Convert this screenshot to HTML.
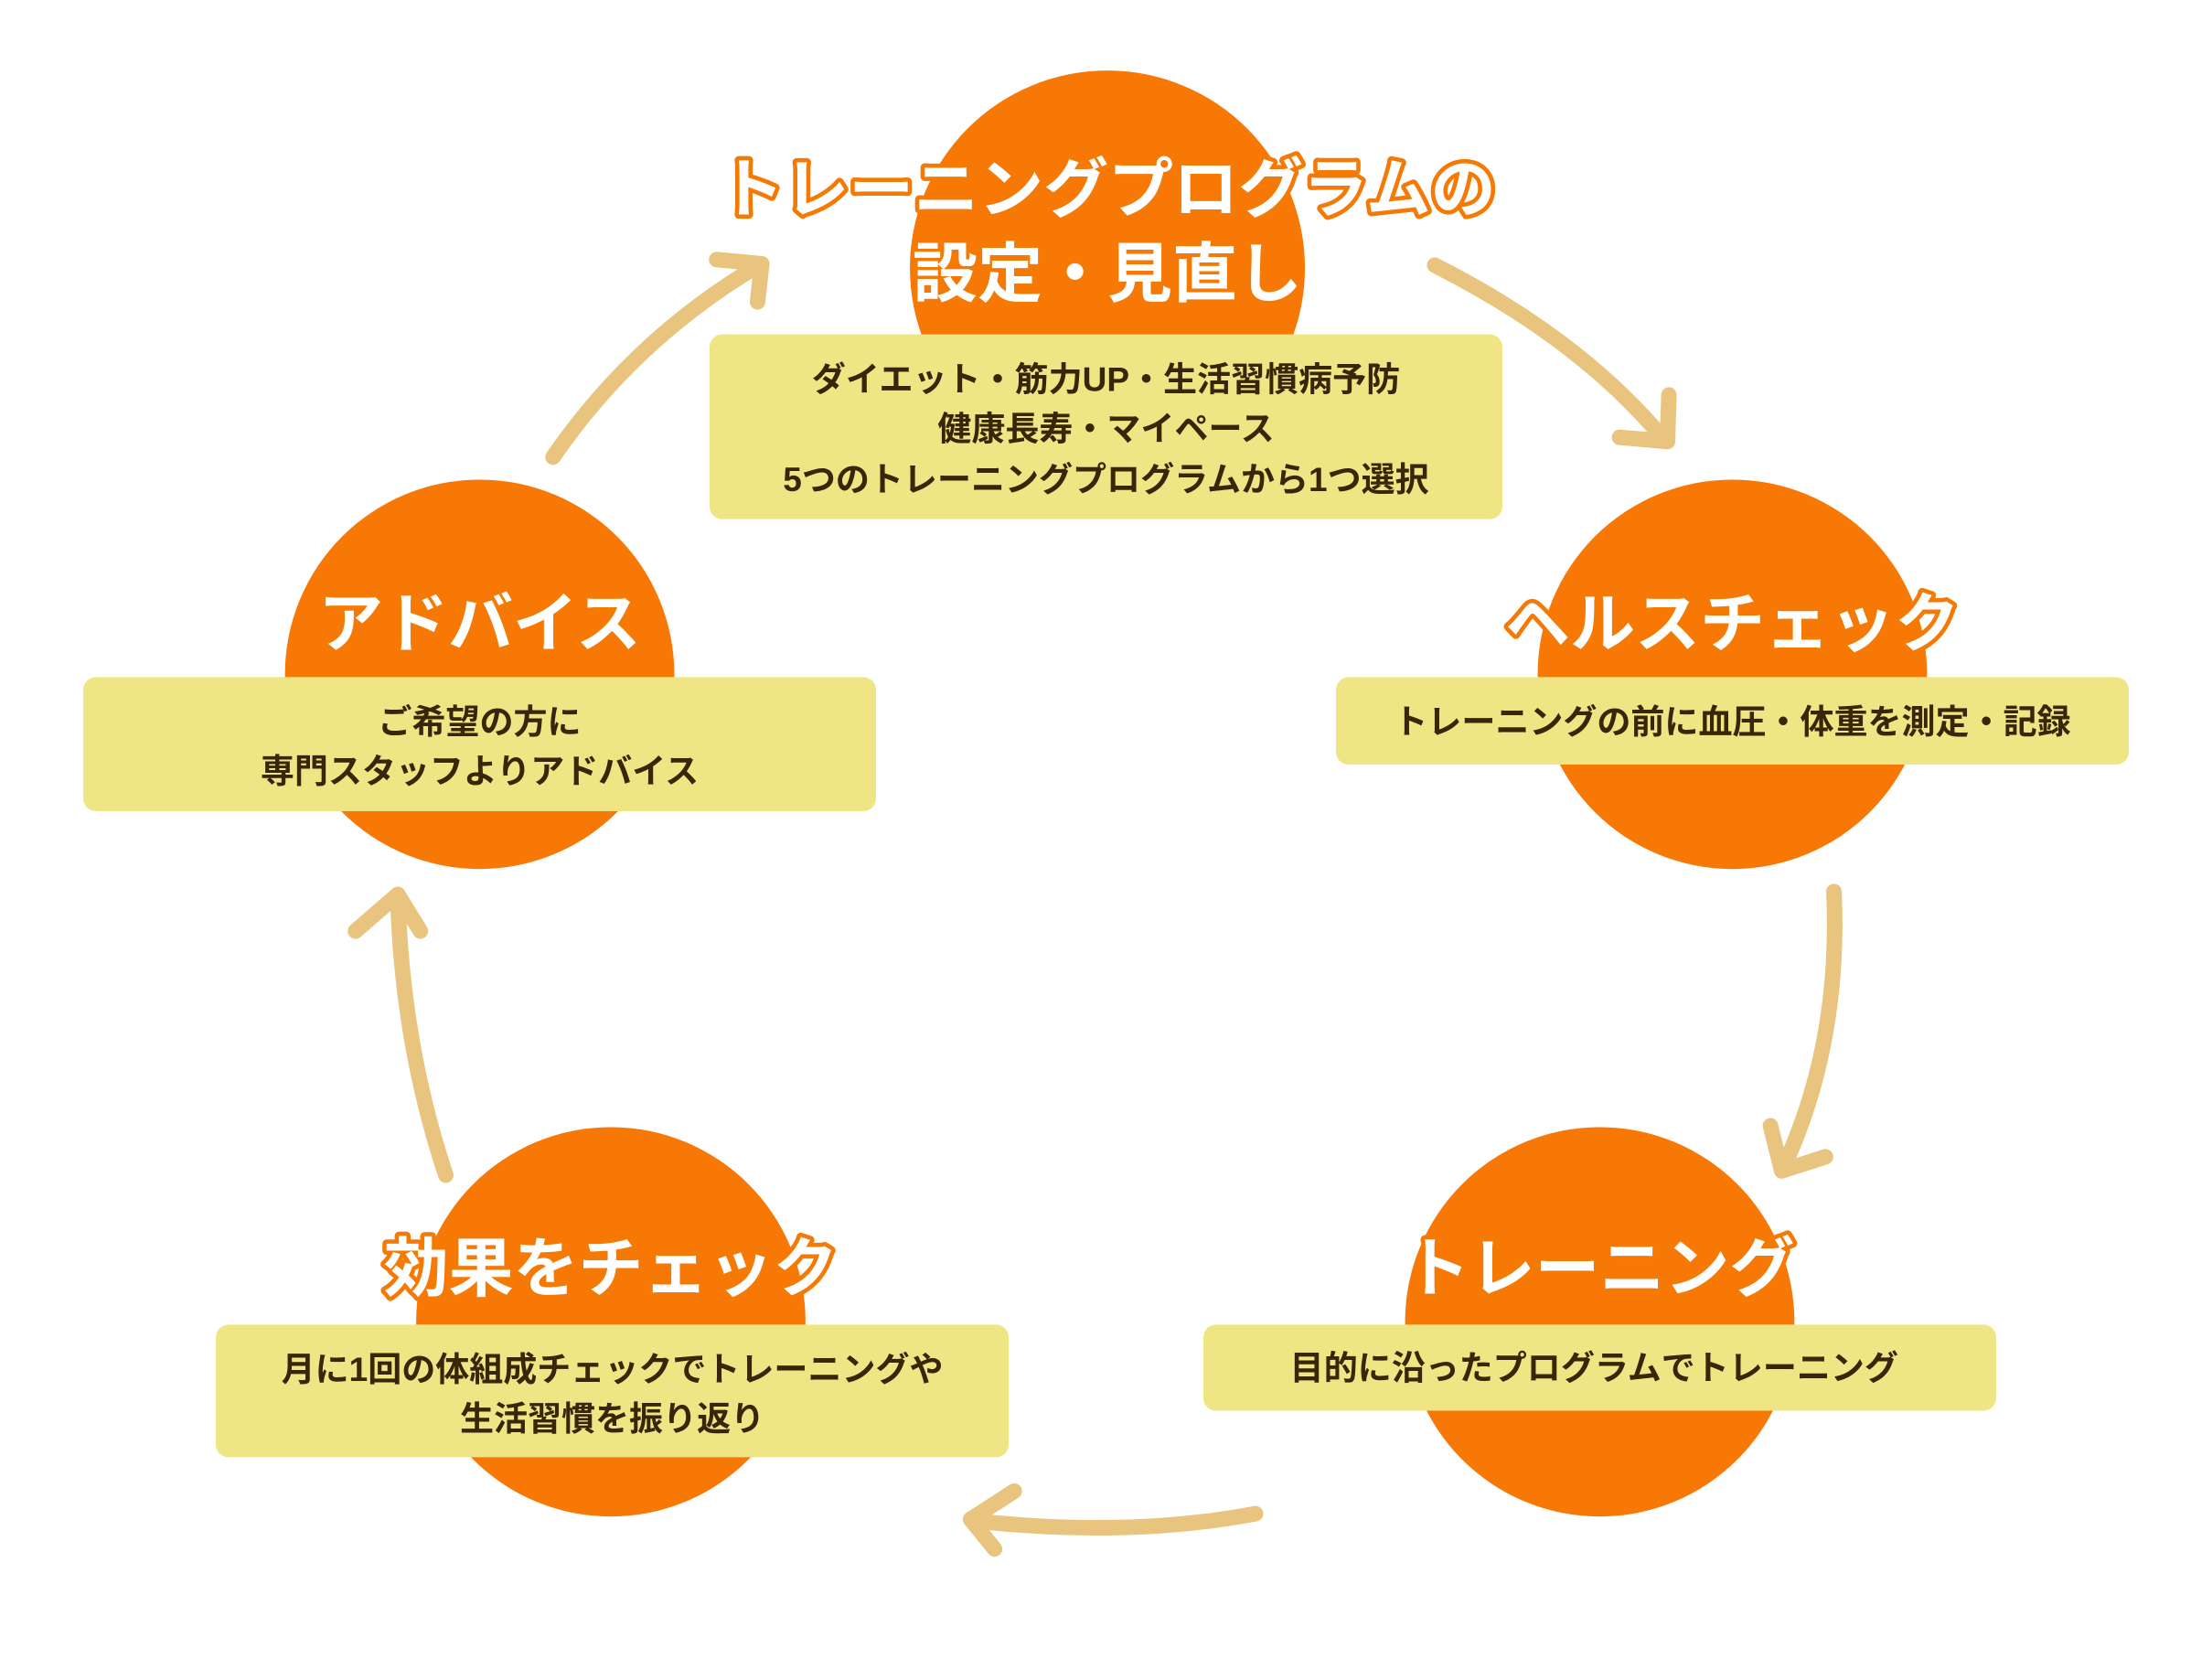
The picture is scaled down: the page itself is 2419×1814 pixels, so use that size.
<!DOCTYPE html>
<html><head><meta charset="utf-8"><style>
html,body{margin:0;padding:0;background:#fff;}
svg{display:block;}
.t{font-family:"Liberation Sans","Noto Sans CJK JP",sans-serif;font-weight:bold;font-size:46px;fill:#fff;stroke:#f57a05;stroke-width:6px;paint-order:stroke;stroke-linejoin:round;text-anchor:middle;}
.b{font-family:"Liberation Sans","Noto Sans CJK JP",sans-serif;font-weight:bold;font-size:24px;fill:#3a2508;text-anchor:middle;}
.a{fill:none;stroke:#e8c47e;stroke-width:11;stroke-linecap:round;stroke-linejoin:round;}
</style></head><body>
<svg width="2419" height="1814" viewBox="0 0 1568 1176" preserveAspectRatio="none" xmlns="http://www.w3.org/2000/svg">
<g fill="#f87805">
<circle cx="785" cy="190" r="140"/>
<circle cx="1228" cy="478" r="138"/>
<circle cx="1134" cy="937" r="138"/>
<circle cx="433" cy="937" r="138"/>
<circle cx="340" cy="478" r="138"/>
</g>
<g fill="#efe585">
<rect x="503" y="237" width="562" height="131" rx="9"/>
<rect x="947" y="480" width="562" height="62" rx="9"/>
<rect x="853" y="939" width="562" height="61" rx="9"/>
<rect x="153" y="939" width="562" height="94" rx="9"/>
<rect x="59" y="480" width="562" height="95" rx="9"/>
</g>
<g class="a">
<path d="M392,324 Q450,240 538,188"/><path d="M508,184 L540,187 L537,214"/>
<path d="M1017,188 Q1120,240 1180,312"/><path d="M1148,310 L1182,313 L1183,280"/>
<path d="M1300,632 Q1305,740 1264,828"/><path d="M1294,820 L1263,830 L1255,798"/>
<path d="M890,1073 Q800,1090 690,1078"/><path d="M719,1057 L688,1077 L705,1098"/>
<path d="M316,833 Q285,740 282,636"/><path d="M252,660 L282,634 L298,660"/>
</g>
<text class="t" x="785" y="150">トレーニングプログラムの</text>
<text class="t" x="785" y="210">設定・見直し</text>
<text class="t" x="1228" y="458">ヘルスチェック</text>
<text class="t" x="1134" y="915">トレーニング</text>
<text class="t" x="433" y="915">効果をチェック</text>
<text class="t" x="340" y="458">アドバイス</text>
<text class="b" x="784" y="277">ダイエット・筋力UP・生活習慣病予防</text>
<text class="b" x="784" y="312">健康長寿・マイペース</text>
<text class="b" x="784" y="348">5つのトレーニングプログラムから1つ選択</text>
<text class="b" x="1228" y="520">トレーニングの前に血圧・体重を測定・記録</text>
<text class="b" x="1130" y="978">目的に沿ったプログラムでトレーニング</text>
<text class="b" x="434" y="979">月に1回の体組成チェックでトレーニングや</text>
<text class="b" x="434" y="1014">生活習慣を振り返り</text>
<text class="b" x="340" y="520">ご希望の方に</text>
<text class="b" x="340" y="555">専門スタッフよりアドバイス</text>
</svg>
</body></html>
